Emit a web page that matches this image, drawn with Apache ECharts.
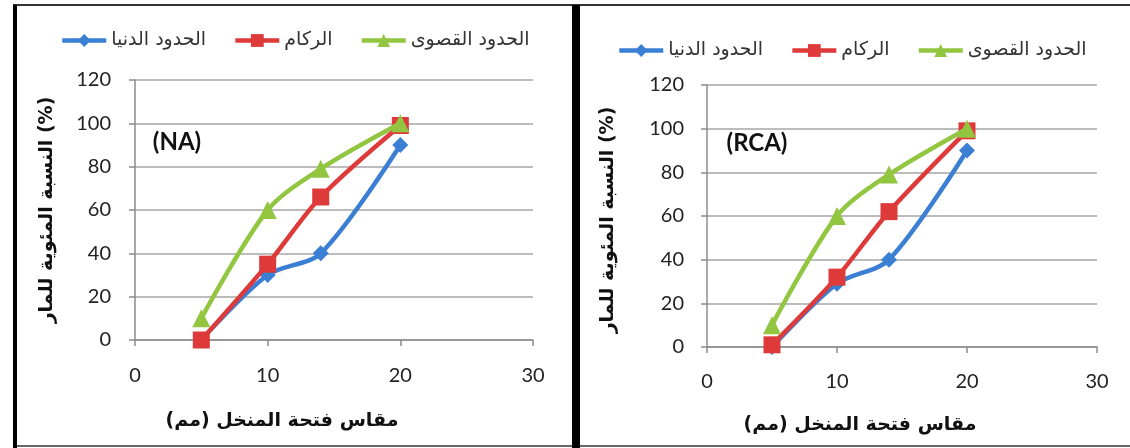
<!DOCTYPE html>
<html>
<head>
<meta charset="utf-8">
<script src="https://cdn.jsdelivr.net/npm/echarts@6/dist/echarts.min.js"></script>
<style>
  html, body { margin: 0; padding: 0; background: #fff; }
  #chart { width: 1130px; height: 448px; }
</style>
</head>
<body>
<div id="chart"></div>
<script>
// Sieve opening sizes (mm)
const sieveSizes = [5, 10, 14, 20];

// Percent passing, natural aggregate (NA)
const naLower = [0, 30, 40, 90];
const naAggregate = [0, 35, 66, 99];
const naUpper = [10, 60, 79, 100];

// Percent passing, recycled concrete aggregate (RCA)
const rcaLower = [0, 29, 40, 90];
const rcaAggregate = [1, 32, 62, 99];
const rcaUpper = [10, 60, 79, 100];

const seriesNames = ['الحدود الدنيا', 'الركام', 'الحدود القصوى'];
const xTicks = { min: 0, max: 30, interval: 10 };
const yTicks = { min: 0, max: 120, interval: 20 };

const xTitle = 'مقاس فتحة المنخل (مم)';
const yTitle = 'النسبة المئوية للمار (%)';
const panelTags = ['(NA)', '(RCA)'];

const colors = ['#3b7fd4', '#de3a3a', '#92c640'];
const symbols = ['diamond', 'rect', 'triangle'];
const symbolSizes = [16, 17, 18];

const numFont = 'Lato';
const arFont = 'DejaVu Sans';

function pairs(ys) {
  return sieveSizes.map((x, i) => [x, ys[i]]);
}

function makeSeries(gridIdx, sets) {
  return sets.map((ys, k) => ({
    name: seriesNames[k],
    type: 'line',
    xAxisIndex: gridIdx,
    yAxisIndex: gridIdx,
    data: pairs(ys),
    smooth: 0.3,
    symbol: symbols[k],
    symbolSize: symbolSizes[k],
    lineStyle: { width: 4.5, color: colors[k] },
    itemStyle: { color: colors[k] },
    emphasis: { disabled: true },
    z: 2 + k
  }));
}

function xAxis(gridIdx, margin) {
  return {
    type: 'value', gridIndex: gridIdx,
    min: xTicks.min, max: xTicks.max, interval: xTicks.interval,
    axisLine: { lineStyle: { color: '#8c8c8c', width: 1.5 } },
    axisTick: { show: true, length: 6, lineStyle: { color: '#8c8c8c', width: 1.5 } },
    axisLabel: { margin: margin, fontFamily: numFont, fontSize: 20, color: '#222' },
    splitLine: { show: false }
  };
}

function yAxis(gridIdx, margin) {
  return {
    type: 'value', gridIndex: gridIdx,
    min: yTicks.min, max: yTicks.max, interval: yTicks.interval,
    axisLine: { show: true, lineStyle: { color: '#8c8c8c', width: 1.5 } },
    axisTick: { show: true, length: 6, lineStyle: { color: '#8c8c8c', width: 1.5 } },
    axisLabel: { margin: margin, fontFamily: numFont, fontSize: 20, color: '#222' },
    splitLine: { show: true, lineStyle: { color: '#a6a6a6', width: 1.5 } }
  };
}

function legend(left, top) {
  return {
    data: seriesNames,
    left: left, top: top,
    itemWidth: 44, itemHeight: 16, itemGap: 27,
    lineStyle: { width: 4.5 },
    textStyle: { fontFamily: arFont, fontSize: 19, color: '#333' },
    selectedMode: false
  };
}

function text(x, y, str, opts) {
  return Object.assign({
    type: 'text', x: x, y: y,
    style: Object.assign({
      text: str, align: 'center', verticalAlign: 'middle',
      fill: '#111'
    }, opts.style || {})
  }, opts.el || {});
}

const chart = echarts.init(document.getElementById('chart'), null, { renderer: 'canvas' });

chart.setOption({
  animation: false,
  backgroundColor: '#fff',
  grid: [
    { left: 135, right: 597, top: 80, bottom: 108 },
    { left: 707, right: 33, top: 85, bottom: 101 }
  ],
  xAxis: [xAxis(0, 26), xAxis(1, 25)],
  yAxis: [yAxis(0, 24), yAxis(1, 23)],
  legend: [
    Object.assign(legend(55, 26), { id: 'lg0' }),
    Object.assign(legend(612, 36), { id: 'lg1' })
  ],
  series: [
    ...makeSeries(0, [naLower, naAggregate, naUpper]),
    ...makeSeries(1, [rcaLower, rcaAggregate, rcaUpper])
  ],
  graphic: [
    // panel frames
    { type: 'line', shape: { x1: 13, y1: 5, x2: 1130, y2: 5 }, style: { stroke: '#333', lineWidth: 2 } },
    { type: 'line', shape: { x1: 13, y1: 446, x2: 1130, y2: 446 }, style: { stroke: '#666', lineWidth: 2 } },
    { type: 'line', shape: { x1: 15, y1: 5, x2: 15, y2: 448 }, style: { stroke: '#000', lineWidth: 4 } },
    { type: 'line', shape: { x1: 576, y1: 5, x2: 576, y2: 448 }, style: { stroke: '#000', lineWidth: 8 } },
    // panel tags
    text(177, 142, panelTags[0], { style: { font: 'bold 24px ' + numFont } }),
    text(757, 143, panelTags[1], { style: { font: 'bold 24px ' + numFont } }),
    // x axis titles
    text(282, 421, xTitle, { style: { font: 'bold 19px ' + arFont } }),
    text(860, 425, xTitle, { style: { font: 'bold 19px ' + arFont } }),
    // y axis titles
    text(47, 210, yTitle, { style: { font: 'bold 19px ' + arFont }, el: { rotation: Math.PI / 2 } }),
    text(608, 220, yTitle, { style: { font: 'bold 19px ' + arFont }, el: { rotation: Math.PI / 2 } })
  ]
});
</script>
</body>
</html>
